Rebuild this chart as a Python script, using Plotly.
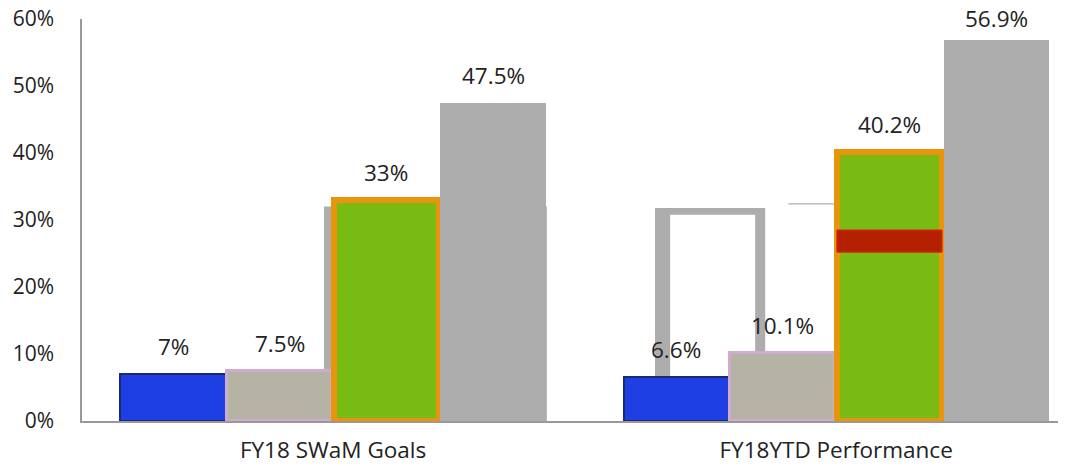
import plotly.graph_objects as go

categories = ["FY18 SWaM Goals", "FY18YTD Performance"]
series_names = ["Series A", "Series B", "Series C", "Series D"]
values_a = [7.0, 6.6]
values_b = [7.5, 10.1]
values_c = [33.0, 40.2]
values_d = [47.5, 56.9]
label_a = ["7%", "6.6%"]
label_b = ["7.5%", "10.1%"]
label_c = ["33%", "40.2%"]
label_d = ["47.5%", "56.9%"]
y_ticks = [0, 10, 20, 30, 40, 50, 60]
y_tick_text = ["0%", "10%", "20%", "30%", "40%", "50%", "60%"]

series = [
    (values_a, label_a, "#1e3fe4", "#1b2a70", 2),
    (values_b, label_b, "#b5b4a4", "#d2a9cf", 3),
    (values_c, label_c, "#79bb12", "#e8950c", 6),
    (values_d, label_d, "#adadad", "#adadad", 0),
]

W, H = 1072, 466
M_L, M_R, M_T, M_B = 82, 14, 19, 45
Y_MAX = 60
px_per_unit = (H - M_T - M_B) / Y_MAX
LABEL_BOX = 31
TOP_PAD = 5

offsets = [-0.318, -0.106, 0.106, 0.318]
bar_w = 0.209
xpos = list(range(len(categories)))
FONT = "Open Sans, Liberation Sans, sans-serif"

fig = go.Figure()
for k, (vals, labs, fill, edge, lw) in enumerate(series):
    xs = [i + offsets[k] for i in xpos]
    fig.add_trace(go.Bar(
        x=xs, y=vals, width=bar_w, name=series_names[k],
        marker=dict(color=fill, line=dict(color=edge, width=lw)),
        showlegend=False,
    ))
    for x, v, t in zip(xs, vals, labs):
        room = (Y_MAX - v) * px_per_unit + M_T - LABEL_BOX - TOP_PAD
        shift = max(0, min(10, room))
        fig.add_annotation(x=x, y=v, text=t, showarrow=False, yanchor="bottom",
                           yshift=shift, font=dict(size=22.5, color="#222222", family=FONT))

# rendering artefacts of the original picture
fig.add_shape(type="rect", x0=-0.018, x1=0.425, y0=0, y1=32, fillcolor="#adadad",
              line=dict(width=0), layer="below")
fig.add_shape(type="rect", x0=0.64, x1=0.859, y0=0, y1=31.8, fillcolor="#adadad",
              line=dict(width=0), layer="below")
fig.add_shape(type="rect", x0=0.67, x1=0.839, y0=0, y1=30.8, fillcolor="white",
              line=dict(width=0), layer="below")
fig.add_shape(type="line", x0=0.905, x1=1.0, y0=32.4, y1=32.4,
              line=dict(color="#999999", width=1), layer="below")
fig.add_shape(type="rect", x0=1 + offsets[2] - bar_w / 2, x1=1 + offsets[2] + bar_w / 2,
              y0=25.2, y1=28.5, fillcolor="#b52000", line=dict(color="#e02000", width=1))

fig.update_layout(
    width=W, height=H,
    margin=dict(l=M_L, r=M_R, t=M_T, b=M_B, autoexpand=False),
    paper_bgcolor="white", plot_bgcolor="white",
    barmode="overlay", bargap=0,
    font=dict(family=FONT, size=21, color="#222222"),
)
fig.update_xaxes(range=[-0.499, 1.441], tickmode="array", tickvals=xpos, ticktext=categories,
                 showline=True, linecolor="#999999", linewidth=2, showgrid=False, zeroline=False,
                 ticks="outside", ticklen=8, tickcolor="rgba(0,0,0,0)", automargin=False,
                 ticklabeloverflow="allow",
                 tickfont=dict(size=22.5, color="#222222", family=FONT))
fig.update_yaxes(range=[0, Y_MAX], tickmode="array", tickvals=y_ticks, ticktext=y_tick_text,
                 showline=True, linecolor="#999999", linewidth=1.5, showgrid=False, zeroline=False,
                 ticks="outside", ticklen=22, tickcolor="rgba(0,0,0,0)", automargin=False,
                 ticklabeloverflow="allow",
                 tickfont=dict(size=21, color="#222222", family=FONT))

fig.write_html("out.html", config={"displayModeBar": False},
               post_script="document.body.style.margin='0';document.body.style.overflow='hidden';")
